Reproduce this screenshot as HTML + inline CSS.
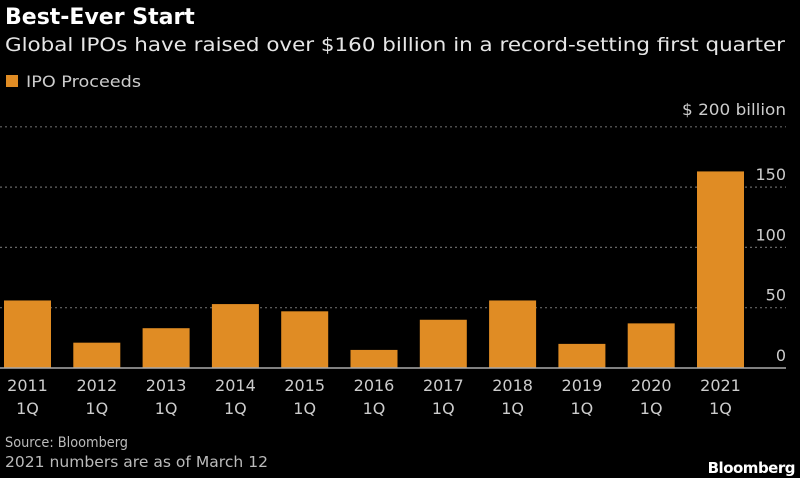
<!DOCTYPE html>
<html><head><meta charset="utf-8"><style>
html,body{margin:0;padding:0;background:#000;}
svg{display:block;font-family:"DejaVu Sans","Liberation Sans",sans-serif;}
</style></head><body>
<svg id="chart" width="800" height="478" viewBox="0 0 800 478">
<rect x="0" y="0" width="800" height="478" fill="#000"/>
<text x="5" y="24" fill="#fff" font-size="22" font-weight="bold">Best-Ever Start</text>
<text x="5" y="51" fill="#e6e6e6" font-size="19" textLength="780" lengthAdjust="spacingAndGlyphs">Global IPOs have raised over $160 billion in a record-setting first quarter</text>
<rect x="6" y="75" width="12" height="12" fill="#e08c24"/>
<text x="26" y="87" fill="#ccc" font-size="16" textLength="115" lengthAdjust="spacingAndGlyphs">IPO Proceeds</text>
<text x="786" y="115" fill="#ccc" font-size="16" text-anchor="end" textLength="104" lengthAdjust="spacingAndGlyphs">$ 200 billion</text>
<g id="grid"></g><g id="bars"></g><g id="xlabels"></g>
<text x="5" y="447" fill="#bbb" font-size="14" textLength="123" lengthAdjust="spacingAndGlyphs">Source: Bloomberg</text>
<text x="5" y="467" fill="#bbb" font-size="15" textLength="263" lengthAdjust="spacingAndGlyphs">2021 numbers are as of March 12</text>
<text x="795" y="473" fill="#fff" font-size="15" font-weight="bold" text-anchor="end" letter-spacing="-0.5">Bloomberg</text>
</svg>
<script>
const categories = ["2011","2012","2013","2014","2015","2016","2017","2018","2019","2020","2021"];
const proceeds = [56, 21, 33, 53, 47, 15, 40, 56, 20, 37, 163];
const yTicks = [0, 50, 100, 150];
const yGrid = [50, 100, 150, 200];
const NS = "http://www.w3.org/2000/svg";
const y0 = 368, pxPer = 60.3/50;
const y = v => y0 - v*pxPer;
const x = i => 27.5 + 69.3*i;
const bw = 47;
function mk(tag, attrs, parent){const e=document.createElementNS(NS,tag);for(const k in attrs)e.setAttribute(k,attrs[k]);parent.appendChild(e);return e;}
const grid=document.getElementById('grid'), bars=document.getElementById('bars'), xl=document.getElementById('xlabels');
yGrid.forEach(v=>{
  const l=mk('line',{x1:0,x2:786,y1:y(v),y2:y(v),stroke:'#666','stroke-width':1.2,'stroke-dasharray':'2,3'},grid);
  
  
});
yTicks.forEach(v=>{
  const t=mk('text',{x:786,y:y(v)-7,fill:'#ccc','font-size':16,'text-anchor':'end'},grid);
  t.textContent=String(v);
  
  
});
categories.forEach((c,i)=>{
  const r=mk('rect',{x:x(i)-bw/2,y:y(proceeds[i]),width:bw,height:y0-y(proceeds[i]),fill:'#e08c24'},bars);
  
  
  const t=mk('text',{x:x(i),y:391,fill:'#ccc','font-size':16,'text-anchor':'middle'},xl);
  t.textContent=c;
  
  
  const q=mk('text',{x:x(i),y:414,fill:'#ccc','font-size':16,'text-anchor':'middle'},xl);
  q.textContent='1Q';
  
  
});
const base=mk('line',{x1:0,x2:786,y1:y0,y2:y0,stroke:'#aaa','stroke-width':1.5},bars);


</script>
</body></html>
